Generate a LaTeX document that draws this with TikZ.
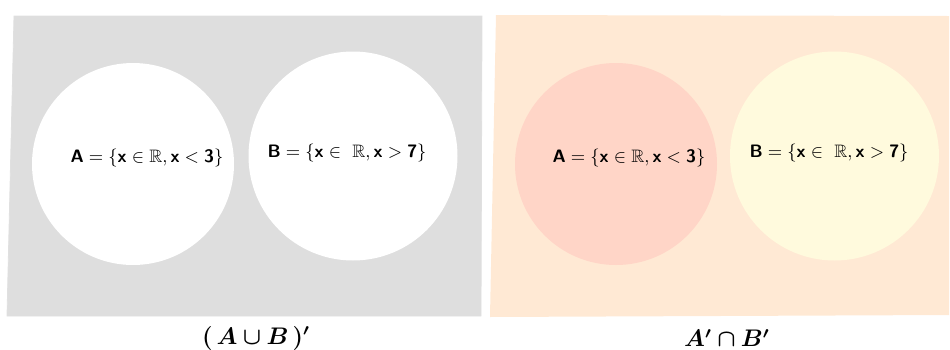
\documentclass[tikz,border=0pt]{standalone}
\usepackage{amssymb}
\usepackage{bm}

\definecolor{panelgray}{HTML}{DEDEDE}
\definecolor{panelpeach}{HTML}{FFE9D4}
\definecolor{setred}{HTML}{FFD5C7}
\definecolor{setyellow}{HTML}{FFFADD}

\newcommand{\bsf}[1]{\mbox{\sffamily\bfseries #1}}

\tikzset{
  setcircle/.style={circle, inner sep=0pt, draw=none},
  setlabel/.style={font=\small, inner sep=0pt},
  caption/.style={font=\large, inner sep=0pt}
}

\begin{document}
\begin{tikzpicture}[x=0.5pt, y=-0.5pt]

\useasboundingbox (0,0) rectangle (950,349);

% ===== Hai khung nen =====
\fill[panelgray, draw=black!12] (14,16) -- (482,16) -- (481,316) -- (7,316) -- cycle;
\fill[panelpeach] (496,15) -- (949,16) -- (949,315) -- (490,317) -- cycle;

% ===== Cac tap hop (trai) =====
\node[setcircle, fill=white, minimum size=101pt] (Aleft) at (133,164) {};
\node[setcircle, fill=white, minimum size=104.5pt] (Bleft) at (353,156) {};

% ===== Cac tap hop (phai) =====
\node[setcircle, fill=setred, minimum size=101pt] (Aright) at (616,164) {};
\node[setcircle, fill=setyellow, minimum size=104.5pt] (Bright) at (834.5,156) {};

% ===== Nhan =====
\foreach \dx/\side in {0/left, 482/right} {
    \node[setlabel] (labA\side) at (147+\dx,158)
        {$\bsf{A} = \{\bsf{x} \in \mathbb{R}, \bsf{x} < \bsf{3}\}$};
    \node[setlabel] (labB\side) at (347+\dx,153)
        {$\bsf{B} = \{\bsf{x} \in\ \mathbb{R}, \bsf{x} > \bsf{7}\}$};
}

% ===== Chu thich =====
\node[caption] (capL) at (256,338) {$\bm{(\,A \cup B\,)'}$};
\node[caption] (capR) at (727,338) {$\bm{A' \cap B'}$};

\end{tikzpicture}
\end{document}
